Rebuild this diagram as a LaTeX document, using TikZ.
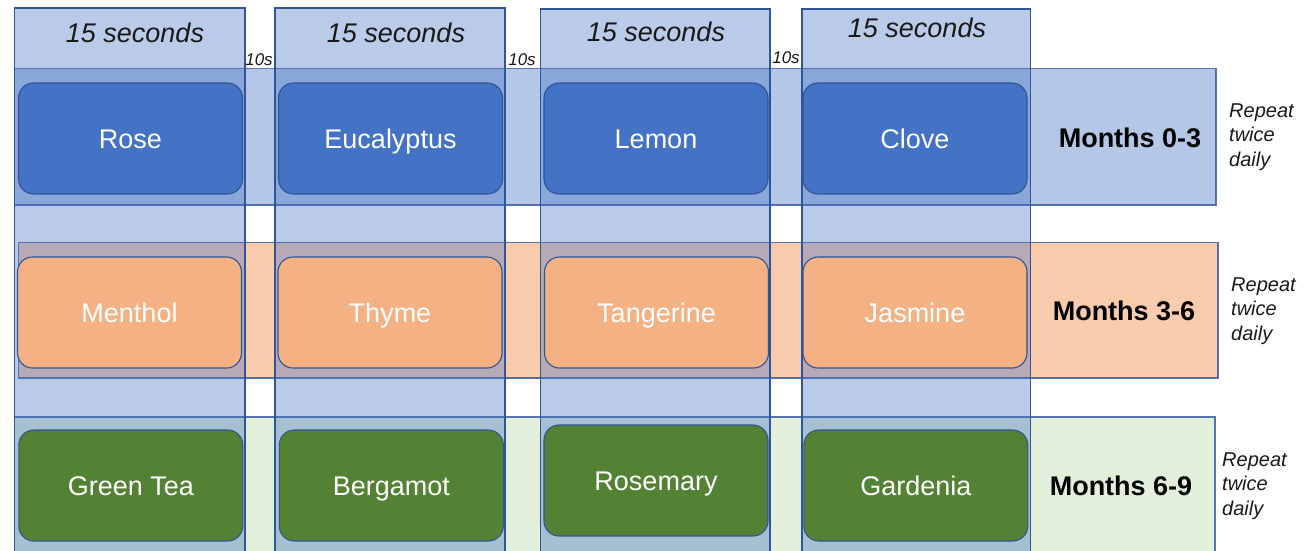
\documentclass[tikz,border=0pt]{standalone}
\usepackage{fontspec}
\setmainfont{Liberation Sans}
\definecolor{boxblue}{HTML}{4472C4}
\definecolor{edgeblue}{HTML}{2F5597}
\definecolor{bandblue}{HTML}{B4C7E7}
\definecolor{bandpeach}{HTML}{F8CBAD}
\definecolor{bandgreen}{HTML}{E2EFDA}
\definecolor{boxpeach}{HTML}{F4B183}
\definecolor{boxgreen}{HTML}{548235}
\begin{document}
\begin{tikzpicture}[x=1pt,y=-1pt,
  band/.style={draw=edgeblue,draw opacity=0.8,line width=1.3pt},
  slot/.style={draw=edgeblue,line width=1.4pt,fill=boxblue,fill opacity=0.37},
  oil/.style={draw=edgeblue,line width=1.1pt,rounded corners=15pt,
    minimum width=224pt,minimum height=111pt,inner sep=0pt,
    text height=19.5pt,text depth=0pt,
    text=white,font=\fontsize{27}{30}\selectfont},
  bluebox/.style={oil,fill=boxblue},
  peachbox/.style={oil,fill=boxpeach},
  greenbox/.style={oil,fill=boxgreen},
  dur/.style={font=\fontsize{27}{30}\selectfont\itshape,text=black!90,inner sep=0pt},
  gap/.style={font=\fontsize{17}{19}\selectfont\itshape,text=black!90,inner sep=0pt},
  period/.style={font=\fontsize{27}{30}\selectfont\bfseries,inner sep=0pt},
  note/.style={font=\fontsize{20}{24.5}\selectfont\itshape,align=left,anchor=west,inner sep=0pt,text=black!90}]
\useasboundingbox (0,0) rectangle (1309,550);
\clip (0,0) rectangle (1309,550);

% row bands
\filldraw[band,fill=bandblue]  (14.5,68.5) rectangle (1216,205);
\filldraw[band,fill=bandpeach] (18.5,242.5) rectangle (1218,378);
\filldraw[band,fill=bandgreen] (14.5,417) rectangle (1215,560);

% translucent time slots
\filldraw[slot] (14.5,8)  rectangle (245,560);
\filldraw[slot] (275,8)   rectangle (505,560);
\filldraw[slot] (540.5,9) rectangle (770,560);
\filldraw[slot] (802,9)   rectangle (1030.5,560);

% slot headers and pauses
\node[dur] (h1) at (135,33) {15 seconds};
\node[dur] (h2) at (396,33) {15 seconds};
\node[dur] (h3) at (656,32) {15 seconds};
\node[dur] (h4) at (917,28) {15 seconds};
\node[gap] (p1) at (259,60) {10s};
\node[gap] (p2) at (522,60) {10s};
\node[gap] (p3) at (786,58) {10s};

% months 0-3
\node[bluebox] (rose)  at (130.5,138.5) {Rose};
\node[bluebox] (euca)  at (390.5,138.5) {Eucalyptus};
\node[bluebox] (lemon) at (656,138.5)   {Lemon};
\node[bluebox] (clove) at (915,138.5)   {Clove};
\node[period] (m1) at (1130,138) {Months 0-3};
\node[note] (r1) at (1229,137) {Repeat\\twice\\daily};

% months 3-6
\node[peachbox] (menthol) at (129.5,312.5) {Menthol};
\node[peachbox] (thyme)   at (390,312.5)   {Thyme};
\node[peachbox] (tang)    at (656.5,312.5) {Tangerine};
\node[peachbox] (jasmine) at (915,312.5)   {Jasmine};
\node[period] (m2) at (1124,311) {Months 3-6};
\node[note] (r2) at (1231,311) {Repeat\\twice\\daily};

% months 6-9
\node[greenbox] (tea)      at (130.8,485.5) {Green Tea};
\node[greenbox] (bergamot) at (391.3,485.5) {Bergamot};
\node[greenbox] (rosemary) at (656,480.5)   {Rosemary};
\node[greenbox] (gardenia) at (915.8,485.5) {Gardenia};
\node[period] (m3) at (1121,486) {Months 6-9};
\node[note] (r3) at (1222,486) {Repeat\\twice\\daily};
\end{tikzpicture}
\end{document}
